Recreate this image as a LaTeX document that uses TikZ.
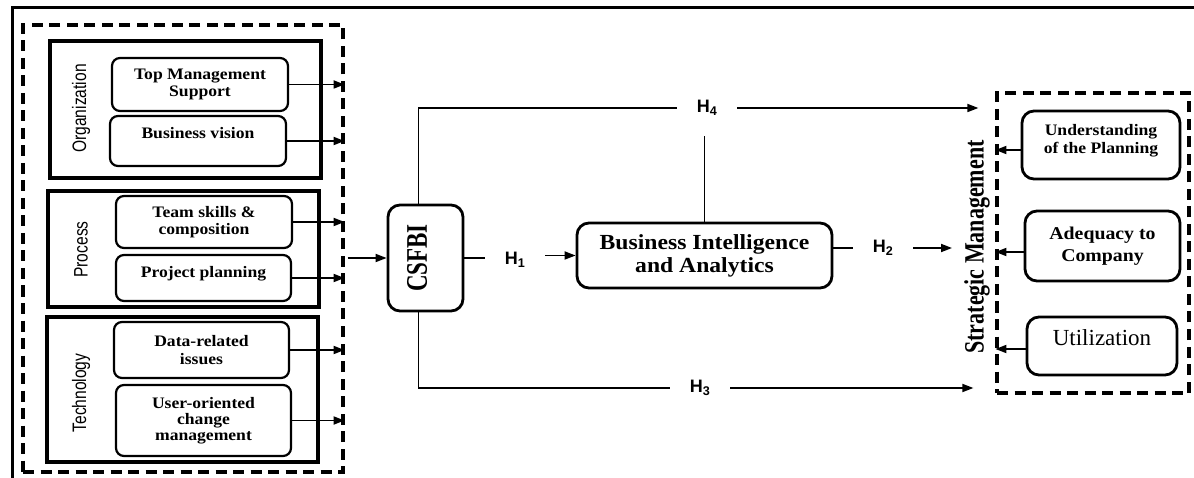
\documentclass[tikz,border=0pt]{standalone}
\usepackage{fontspec}
\setmainfont{Liberation Serif}
\newfontfamily\bxfont{Liberation Serif}[FakeStretch=1.1]
\newfontfamily\narrowsans{Liberation Sans}[FakeStretch=0.8]
\newfontfamily\hfont{Liberation Sans}
\usetikzlibrary{arrows.meta}
\tikzset{
  grp/.style={draw, line width=3.4pt, minimum width=271pt, inner sep=0pt},
  sbox/.style={draw, line width=2.2pt, rounded corners=8pt, align=center, inner sep=0pt,
    font=\bxfont\bfseries\fontsize{16}{17}\selectfont},
  dbox/.style={draw, line width=3.2pt, dash pattern=on 11pt off 6.5pt, inner sep=0pt},
  glabel/.style={inner sep=0pt, font=\narrowsans\fontsize{19.5}{20}\selectfont},
  hlab/.style={inner sep=20pt, font=\hfont\bfseries\fontsize{18}{19}\selectfont},
  conn/.style={line width=1.7pt},
  arr/.style={conn, -{Triangle[length=11pt,width=8pt]}},
  bigbox/.style={draw, line width=2.8pt, rounded corners=12pt, align=center, inner sep=0pt},
}
\begin{document}
\begin{tikzpicture}[x=1pt,y=-1pt]
\useasboundingbox (0,0) rectangle (1194,478);
% outer frame (top and left visible)
\draw[line width=3pt] (12,490) -- (12,8) -- (1200,8);

% left dashed group
\node[dbox, minimum width=320pt, minimum height=447pt] (lbox) at (183,248.5) {};
\node[grp, minimum height=137pt] (org) at (185.5,109.5) {};
\node[grp, minimum height=116pt] (proc) at (183.5,249) {};
\node[grp, minimum height=145pt] (tech) at (182.5,389.5) {};
\node[glabel] (orgl) at (81,108.5) {\rotatebox{90}{Organization}};
\node[glabel] (procl) at (81,249.5) {\rotatebox{90}{Process}};
\node[glabel] (techl) at (81,393) {\rotatebox{90}{Technology}};

\node[sbox, minimum width=176pt, minimum height=53pt] (tms) at (200,84.5) {Top Management\\Support};
\node[sbox, minimum width=176pt, minimum height=50pt, text height=11pt, text depth=16pt] (bv) at (198,141) {Business vision};
\node[sbox, minimum width=176pt, minimum height=52pt] (tsc) at (204,222) {Team skills \&\\composition};
\node[sbox, minimum width=175pt, minimum height=46pt, text height=11pt, text depth=12pt] (pp) at (203.5,278) {Project planning};
\node[sbox, minimum width=175pt, minimum height=56pt, font=\bxfont\bfseries\fontsize{16}{18}\selectfont] (dri) at (201.5,350) {Data-related\\issues};
\node[sbox, minimum width=175pt, minimum height=71pt, font=\bxfont\bfseries\fontsize{16}{16}\selectfont] (uocm) at (203.5,420.5) {User-oriented\\change\\management};

% centre
\node[bigbox, minimum width=75pt, minimum height=106pt, font=\bfseries\fontsize{23}{24}\selectfont] (csfbi) at (425.5,258)
  {\rotatebox{90}{\scalebox{1}[1.3]{CSFBI}}\rule{17pt}{0pt}};
\node[bigbox, minimum width=255pt, minimum height=65pt, font=\bxfont\bfseries\fontsize{21.5}{23}\selectfont] (bi) at (704.5,255.5)
  {Business Intelligence\\and Analytics};

\node[hlab] (h1) at (515,260) {H\textsubscript{1}};
\node[hlab] (h2) at (883,248) {H\textsubscript{2}};
\node[hlab] (h3) at (700,388) {H\textsubscript{3}};
\node[hlab] (h4) at (707,108) {H\textsubscript{4}};

% right dashed group
\node[dbox, minimum width=192pt, minimum height=300pt] (rbox) at (1093,243) {};
\node[inner sep=0pt, font=\bfseries\fontsize{22}{24}\selectfont] (sm) at (977,247)
  {\rotatebox{90}{\scalebox{1}[1.27]{Strategic Management}}};
\node[bigbox, minimum width=158pt, minimum height=68pt, font=\bxfont\bfseries\fontsize{16}{18}\selectfont] (und) at (1101,145)
  {Understanding\\of the Planning\\[-6pt]\mbox{}};
\node[bigbox, minimum width=155pt, minimum height=70pt, font=\bxfont\bfseries\fontsize{18}{22}\selectfont] (adq) at (1102.5,246)
  {Adequacy to\\Company};
\node[bigbox, minimum width=150pt, minimum height=58pt, font=\fontsize{23}{25}\selectfont, text height=16pt, text depth=17pt] (util) at (1102,346)
  {Utilization};

% connectors
\foreach \n in {tms,bv,tsc,pp,dri,uocm}
  \draw[arr] (\n.east) -- (\n.east -| lbox.east);
\draw[arr, shorten <=3pt] (lbox.east |- csfbi.west) -- (csfbi.west);
\draw[conn] (csfbi.east) -- (csfbi.east -| h1.west);
\draw[arr] (h1.east |- bi.west) -- (bi.west);
\draw[conn] ([xshift=-7pt]csfbi.north) |- (h4.west);
\draw[arr, shorten >=17pt] (h4.east) -- (h4.east -| rbox.west);
\draw[conn] (bi.north) -- (bi.north |- h4.south);
\draw[conn] ([xshift=-7pt]csfbi.south) |- (h3.west);
\draw[arr, shorten >=22pt] (h3.east) -- (h3.east -| rbox.west);
\draw[conn] (bi.east |- h2.west) -- (h2.west);
\draw[arr, shorten >=12pt] (h2.east) -- (h2.east -| sm.west);
\draw[arr] ([yshift=-5pt]und.west) -- ([yshift=-5pt]und.west -| rbox.west);
\draw[arr] ([yshift=-6pt]adq.west) -- ([yshift=-6pt]adq.west -| rbox.west);
\draw[arr] ([yshift=-3pt]util.west) -- ([yshift=-3pt]util.west -| rbox.west);
\end{tikzpicture}
\end{document}
